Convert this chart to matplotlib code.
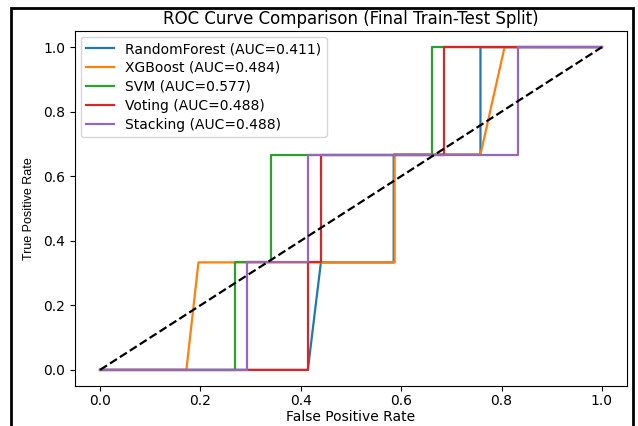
import numpy as np
import matplotlib
matplotlib.use("Agg")
import matplotlib.pyplot as plt
from matplotlib.patches import Rectangle

# ROC points (3 positives -> TPR steps of 1/3)
names = ["RandomForest", "XGBoost", "SVM", "Voting", "Stacking"]
aucs = [0.411, 0.484, 0.577, 0.488, 0.488]
colors = ["#1f77b4", "#ff7f0e", "#2ca02c", "#d62728", "#9467bd"]

fpr_rf = [0.0, 0.414, 0.440, 0.585, 0.585, 0.758, 0.758, 1.0]
tpr_rf = [0.0, 0.0, 0.333, 0.333, 0.667, 0.667, 1.0, 1.0]
fpr_xgb = [0.0, 0.172, 0.196, 0.587, 0.587, 0.758, 0.806, 1.0]
tpr_xgb = [0.0, 0.0, 0.333, 0.333, 0.667, 0.667, 1.0, 1.0]
fpr_svm = [0.0, 0.269, 0.269, 0.341, 0.341, 0.661, 0.661, 1.0]
tpr_svm = [0.0, 0.0, 0.333, 0.333, 0.667, 0.667, 1.0, 1.0]
fpr_vote = [0.0, 0.414, 0.414, 0.440, 0.440, 0.685, 0.685, 1.0]
tpr_vote = [0.0, 0.0, 0.333, 0.333, 0.667, 0.667, 1.0, 1.0]
fpr_stack = [0.0, 0.293, 0.293, 0.414, 0.414, 0.832, 0.832, 1.0]
tpr_stack = [0.0, 0.0, 0.333, 0.333, 0.667, 0.667, 1.0, 1.0]

fprs = [fpr_rf, fpr_xgb, fpr_svm, fpr_vote, fpr_stack]
tprs = [tpr_rf, tpr_xgb, tpr_svm, tpr_vote, tpr_stack]

fig = plt.figure(figsize=(6.38, 4.26), dpi=100)
ax = fig.add_axes([75 / 638, 1 - 386 / 426, 552 / 638, 355 / 426])

for name, auc, c, x, y in zip(names, aucs, colors, fprs, tprs):
    ax.plot(x, y, color=c, lw=1.6, label=f"{name} (AUC={auc:.3f})")
ax.plot([0, 1], [0, 1], "k--", lw=1.6)

ax.set_xlim(-0.05, 1.05)
ax.set_ylim(-0.05, 1.05)
ax.set_xticks(np.arange(0, 1.01, 0.2))
ax.set_yticks(np.arange(0, 1.01, 0.2))
ax.tick_params(labelsize=10, length=3.5)
ax.tick_params(axis="x", pad=2.5)
ax.set_xlabel("False Positive Rate", fontsize=10, labelpad=1)
ax.set_ylabel("True Positive Rate", fontsize=9, labelpad=6,
              family=["Liberation Sans Narrow", "Liberation Sans"])
ax.set_title("ROC Curve Comparison (Final Train-Test Split)", fontsize=12, pad=5)
ax.legend(loc="upper left", fontsize=10, handlelength=2.0,
          borderaxespad=0.4, labelspacing=0.35)

# black frame around the screenshot
fig.add_artist(Rectangle((11 / 638, -0.05), 622 / 638, 1.05 - 8 / 426,
                         transform=fig.transFigure, fill=False,
                         edgecolor="black", lw=2))

fig.savefig("out.png", dpi=100)
